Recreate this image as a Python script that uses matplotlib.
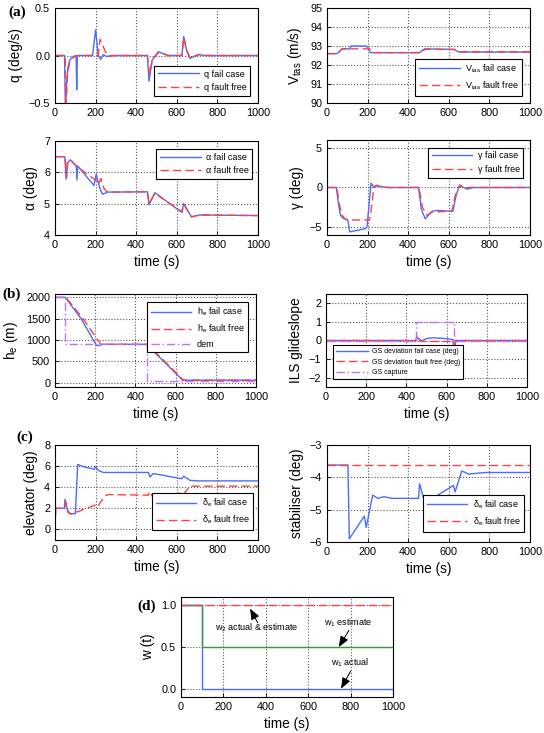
import matplotlib
matplotlib.use("Agg")
import matplotlib.pyplot as plt

plt.rcParams['font.family'] = ['Liberation Sans', 'DejaVu Sans']
plt.rcParams['mathtext.fontset'] = 'custom'
plt.rcParams['mathtext.rm'] = 'Liberation Sans'
plt.rcParams['mathtext.it'] = 'Liberation Sans:italic'

# ---------------- data (time s, value) ----------------
q_fail_t = [0, 47, 51, 57, 64, 75, 90, 104, 107, 110, 185, 200, 213, 225, 238, 254, 280, 320, 455, 463, 478, 509, 558, 625, 634, 648, 665, 706, 740, 1000]
q_fail_v = [0, 0, -0.55, -0.3, -0.12, -0.04, -0.01, 0, -0.36, 0, 0, 0.27, 0.0, -0.04, 0.01, -0.01, 0, 0, 0, -0.27, -0.05, 0.04, 0.0, 0, 0.2, 0.06, -0.03, 0.01, 0, 0]
q_free_t = [0, 50, 54, 62, 72, 90, 115, 212, 222, 233, 246, 262, 290, 455, 466, 480, 509, 558, 625, 634, 648, 665, 706, 740, 1000]
q_free_v = [0, 0, -0.55, -0.2, -0.07, -0.02, 0, 0, 0.17, 0.12, 0.05, -0.01, 0, 0, -0.2, -0.04, 0.03, 0, 0, 0.19, 0.06, -0.03, 0.01, 0, 0]

v_fail_t = [0, 50, 75, 110, 118, 195, 215, 455, 480, 625, 650, 1000]
v_fail_v = [92.6, 92.6, 92.85, 92.85, 93.0, 93.0, 92.65, 92.65, 92.85, 92.82, 92.68, 92.68]
v_free_t = [0, 50, 75, 210, 230, 460, 485, 630, 655, 1000]
v_free_v = [92.6, 92.6, 92.85, 92.85, 92.65, 92.65, 92.83, 92.82, 92.7, 92.7]

a_fail_t = [0, 48, 55, 62, 75, 105, 108, 112, 192, 203, 220, 234, 260, 300, 455, 463, 492, 625, 633, 672, 713, 1000]
a_fail_v = [6.5, 6.5, 5.78, 6.3, 6.4, 6.2, 5.75, 6.2, 5.58, 5.95, 5.5, 5.3, 5.37, 5.37, 5.38, 4.97, 5.35, 4.72, 5.0, 4.58, 4.64, 4.62]
a_free_t = [0, 50, 57, 62, 75, 105, 200, 215, 226, 240, 255, 300, 455, 464, 492, 625, 635, 672, 713, 1000]
a_free_v = [6.5, 6.5, 5.85, 6.3, 6.4, 6.2, 5.75, 5.62, 5.8, 5.5, 5.38, 5.37, 5.38, 5.0, 5.33, 4.74, 4.98, 4.58, 4.64, 4.62]

g_fail_t = [0, 46, 56, 66, 80, 98, 103, 112, 189, 197, 217, 230, 246, 295, 451, 465, 484, 517, 542, 620, 636, 653, 673, 690, 722, 1000]
g_fail_v = [0, 0, -2.0, -3.5, -3.9, -4.05, -4.2, -5.6, -5.2, -5.0, 0.55, 0.1, 0.2, 0, 0, -2.8, -3.95, -3.0, -2.9, -3.0, -1.0, 0.3, 0.0, -0.2, 0, 0]
g_free_t = [0, 49, 60, 74, 90, 100, 210, 222, 230, 243, 265, 295, 453, 470, 492, 520, 615, 632, 655, 675, 700, 1000]
g_free_v = [0, 0, -2.0, -3.5, -4.0, -4.1, -4.1, -2.0, 0, 0.3, 0.1, 0, 0, -2.5, -3.5, -3.1, -3.0, -1.0, 0.3, -0.1, 0, 0]

h_fail_t = [0, 52, 75, 130, 207, 222, 232, 455, 635, 1000]
h_fail_v = [2000, 2000, 1850, 1500, 870, 875, 900, 900, 60, 60]
h_free_t = [0, 55, 80, 140, 205, 228, 460, 640, 1000]
h_free_v = [2000, 2000, 1850, 1500, 1050, 900, 900, 60, 60]
h_dem_t = [0, 52, 52, 456, 456, 1000]
h_dem_v = [2000, 2000, 900, 900, 50, 50]

gs_fail_t = [0, 448, 452, 470, 500, 530, 600, 632, 638, 641, 645, 1000]
gs_fail_v = [0, 0, 0.2, -0.05, 0.1, 0.15, 0.1, 0.05, -1.0, -0.2, 0, 0]
gs_free_t = [0, 448, 452, 475, 630, 636, 640, 645, 1000]
gs_free_v = [0, 0, 0.3, -0.05, -0.05, -0.2, -0.6, 0, 0]
gs_cap_t = [0, 447, 447, 639, 639, 1000]
gs_cap_v = [0, 0, 1, 1, 0, 0]

e_fail_t = [0, 1, 2, 4, 46, 49, 62, 74, 100, 112, 148, 194, 200, 213, 238, 460, 468, 484, 624, 634, 665, 700, 1000]
e_fail_v = [2.0, 3.1, 1.2, 2.0, 2.0, 2.85, 1.8, 1.5, 1.5, 6.15, 5.9, 5.7, 5.95, 5.6, 5.4, 5.4, 4.97, 5.3, 4.8, 5.05, 4.65, 4.6, 4.6]
e_free_t = [0, 1, 3, 48, 53, 64, 79, 197, 204, 212, 246, 262, 460, 463, 493, 510, 624, 632, 665, 1000]
e_free_v = [2.0, 2.7, 2.0, 2.0, 2.6, 1.6, 1.45, 2.3, 2.4, 2.2, 3.2, 3.3, 3.25, 3.6, 2.8, 2.9, 3.5, 3.3, 4.1, 4.1]

s_fail_t = [0, 103, 110, 184, 193, 225, 251, 279, 320, 451, 456, 487, 533, 623, 631, 664, 697, 779, 1000]
s_fail_v = [-3.62, -3.62, -5.9, -5.2, -5.55, -4.55, -4.65, -4.6, -4.65, -4.65, -4.2, -4.9, -4.6, -4.25, -4.45, -3.8, -3.9, -3.85, -3.85]
s_free_t = [0, 1000]
s_free_v = [-3.62, -3.62]

w1_act_t = [0, 100, 100, 1000]
w1_act_v = [1, 1, 0, 0]
w1_est_t = [0, 100, 100, 1000]
w1_est_v = [1, 1, 0.5, 0.5]
w2_t = [0, 1000]
w2_v = [1, 1]

BLUE = '#4a6cff'
RED = '#ff4040'
PURPLE = '#c070ff'
GREEN = '#3a9a3a'

fig = plt.figure(figsize=(5.44, 7.33), dpi=100)
W, H = 544.0, 733.0

def add_ax(x0, x1, y0, y1):
    return fig.add_axes([x0 / W, 1 - y1 / H, (x1 - x0) / W, (y1 - y0) / H])

def style(ax, ylim, yticks, ylabel, xlabel=True):
    ax.set_xlim(0, 1000)
    ax.set_xticks([0, 200, 400, 600, 800, 1000])
    ax.set_ylim(*ylim)
    ax.set_yticks(yticks)
    ax.grid(True, linestyle=':', color='0.35', linewidth=0.8)
    ax.tick_params(direction='in', labelsize=7.8, length=3, width=0.6)
    for s in ax.spines.values():
        s.set_linewidth(0.8)
    ax.set_ylabel(ylabel, fontsize=9.8)
    if xlabel:
        ax.set_xlabel('time (s)', fontsize=9.8)

def leg(ax, loc, anchor, fs=6.5):
    lg = ax.legend(loc=loc, bbox_to_anchor=anchor, fontsize=fs, handlelength=4.5,
                   fancybox=False, framealpha=1, edgecolor='black', borderpad=0.4,
                   labelspacing=0.5, handletextpad=0.6)
    lg.get_frame().set_linewidth(0.8)

DASH = (0, (6, 3))
DASHDOT = (0, (6, 2, 1, 2))

# (a) q
ax = add_ax(55, 258, 8, 103)
ax.plot(q_fail_t, q_fail_v, color=BLUE, lw=1.0, label='q fail case')
ax.plot(q_free_t, q_free_v, color=RED, lw=1.0, ls=DASH, label='q fault free')
style(ax, (-0.5, 0.5), [-0.5, 0, 0.5], 'q (deg/s)', xlabel=False)
leg(ax, 'lower right', (0.985, 0.03))

# Vtas
ax = add_ax(327, 530, 8, 103)
ax.plot(v_fail_t, v_fail_v, color=BLUE, lw=1.0, label=r'$\mathregular{V_{tas}}$ fail case')
ax.plot(v_free_t, v_free_v, color=RED, lw=1.0, ls=DASH, label=r'$\mathregular{V_{tas}}$ fault free')
style(ax, (90, 95), [90, 91, 92, 93, 94, 95], r'$\mathregular{V_{tas}}$ (m/s)', xlabel=False)
leg(ax, 'lower right', (0.985, 0.03))

# alpha
ax = add_ax(55, 258, 141, 235)
ax.plot(a_fail_t, a_fail_v, color=BLUE, lw=1.0, label='α fail case')
ax.plot(a_free_t, a_free_v, color=RED, lw=1.0, ls=DASH, label='α fault free')
style(ax, (4, 7), [4, 5, 6, 7], 'α (deg)')
leg(ax, 'upper right', (0.995, 0.96))

# gamma
ax = add_ax(327, 530, 140, 235)
ax.plot(g_fail_t, g_fail_v, color=BLUE, lw=1.0, label='γ fail case')
ax.plot(g_free_t, g_free_v, color=RED, lw=1.0, ls=DASH, label='γ fault free')
style(ax, (-6, 6), [-5, 0, 5], 'γ (deg)')
leg(ax, 'upper right', (0.99, 0.965))

# (b) he
ax = add_ax(55, 256, 294, 387)
ax.plot(h_fail_t, h_fail_v, color=BLUE, lw=1.0, label=r'$\mathregular{h_e}$ fail case')
ax.plot(h_free_t, h_free_v, color=RED, lw=1.0, ls=DASH, label=r'$\mathregular{h_e}$ fault free')
ax.plot(h_dem_t, h_dem_v, color=PURPLE, lw=1.0, ls=DASHDOT, label='dem')
style(ax, (-100, 2080), [0, 500, 1000, 1500, 2000], r'$\mathregular{h_e}$ (m)')
leg(ax, 'upper right', (0.985, 0.96))

# ILS
ax = add_ax(326, 527, 294, 387)
ax.plot(gs_fail_t, gs_fail_v, color=BLUE, lw=1.0, label='GS deviation fail case (deg)')
ax.plot(gs_free_t, gs_free_v, color=RED, lw=1.0, ls=DASH, label='GS deviation fault free (deg)')
ax.plot(gs_cap_t, gs_cap_v, color=PURPLE, lw=1.0, ls=DASHDOT, label='GS capture')
style(ax, (-2.5, 2.5), [-2, -1, 0, 1, 2], 'ILS glideslope')
leg(ax, 'lower left', (0.02, 0.05), fs=5)

# (c) elevator
ax = add_ax(55, 258, 445, 540)
ax.plot(e_fail_t, e_fail_v, color=BLUE, lw=1.0, label=r'$\mathregular{\delta_e}$ fail case')
ax.plot(e_free_t, e_free_v, color=RED, lw=1.0, ls=DASH, label=r'$\mathregular{\delta_e}$ fault free')
style(ax, (-1, 8), [0, 2, 4, 6, 8], 'elevator (deg)')
leg(ax, 'lower right', (1.0, 0.06))

# stabiliser
ax = add_ax(327, 530, 445, 542)
ax.plot(s_fail_t, s_fail_v, color=BLUE, lw=1.0, label=r'$\mathregular{\delta_e}$ fail case')
ax.plot(s_free_t, s_free_v, color=RED, lw=1.0, ls=DASH, label=r'$\mathregular{\delta_e}$ fault free')
style(ax, (-6, -3), [-6, -5, -4, -3], 'stabiliser (deg)')
leg(ax, 'lower right', (0.995, 0.06))

# (d) weights
ax = add_ax(181, 393, 597, 697)
ax.plot(w1_act_t, w1_act_v, color=BLUE, lw=1.0)
ax.plot(w1_est_t, w1_est_v, color=GREEN, lw=1.0)
ax.plot(w2_t, w2_v, color=RED, lw=1.0, ls=DASH)
style(ax, (-0.1, 1.1), [0, 0.5, 1], 'w (t)')
arrow = dict(arrowstyle='-|>,head_length=0.55,head_width=0.22', color='black', lw=0.7,
             shrinkA=0, shrinkB=0, mutation_scale=12)
ax.text(356, 0.73, r'$\mathregular{w_2}$ actual & estimate', fontsize=6.5, ha='center', va='center')
ax.annotate('', xy=(326, 0.96), xytext=(362, 0.79), arrowprops=arrow)
ax.text(788, 0.79, r'$\mathregular{w_1}$ estimate', fontsize=6.5, ha='center', va='center')
ax.annotate('', xy=(744, 0.5), xytext=(792, 0.70), arrowprops=arrow)
ax.text(797, 0.31, r'$\mathregular{w_1}$ actual', fontsize=6.5, ha='center', va='center')
ax.annotate('', xy=(755, 0.0), xytext=(800, 0.21), arrowprops=arrow)

# panel labels
for txt, x, y in [('(a)', 8, 12), ('(b)', 2, 294), ('(c)', 16, 437), ('(d)', 137, 606)]:
    fig.text(x / W, 1 - y / H, txt, fontsize=11, fontweight='bold',
             family='Liberation Serif', ha='left', va='center')

fig.savefig('out.png', dpi=100)
